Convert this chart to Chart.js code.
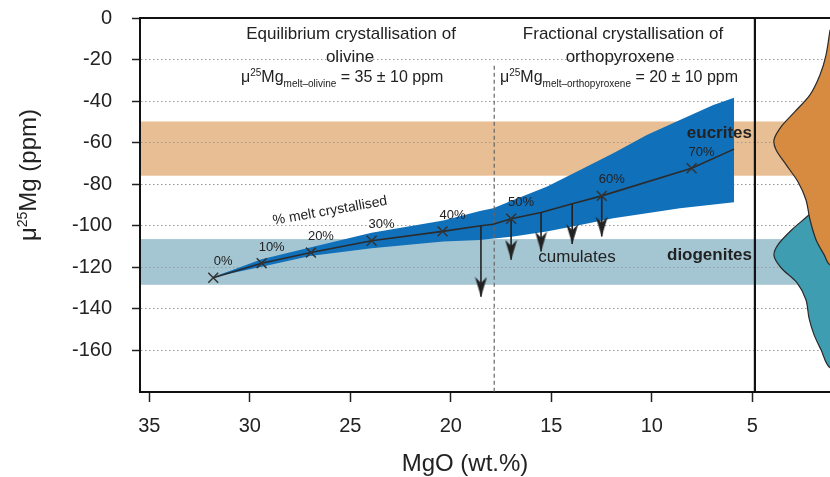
<!DOCTYPE html>
<html>
<head>
<meta charset="utf-8">
<title>mu25Mg vs MgO</title>
<script src="https://cdn.jsdelivr.net/npm/chart.js@4.4.1/dist/chart.umd.min.js"></script>
<style>
  body { margin: 0; background: #fff; }
  canvas { display: block; }
</style>
</head>
<body>
<canvas id="chart" width="830" height="477"></canvas>
<script>
// ----- data (MgO in wt.%, mu25Mg in ppm) -----

// crystallisation steps marked with a cross
const stepLabels = ['0%', '10%', '20%', '30%', '40%', '50%', '60%', '70%'];
const stepMgO = [31.82, 29.41, 26.96, 23.94, 20.41, 17.0, 12.49, 8.02];
const stepMu = [-125.0, -118.0, -112.9, -107.2, -102.7, -96.6, -85.6, -72.3];

// model path through the steps
const pathMgO = [31.82, 29.41, 26.96, 23.94, 20.41, 18.5, 17.89, 17.0, 15.51, 13.96, 12.49, 8.02, 5.91];
const pathMu = [-125.0, -118.0, -112.9, -107.2, -102.7, -100.0, -99.3, -96.6, -93.6, -89.4, -85.6, -72.3, -63.1];

// uncertainty envelope (upper edge left->right, lower edge right->left)
const upperMgO = [31.85, 29.41, 27.0, 23.94, 20.37, 18.55, 17.89, 16.89, 15.23, 13.57, 11.92, 10.25, 8.6, 6.94, 5.91];
const upperMu = [-124.8, -116.1, -110.5, -103.3, -97.5, -92.9, -91.6, -87.6, -81.2, -73.1, -65.1, -56.3, -49.1, -41.9, -38.4];
const lowerMgO = [5.91, 8.6, 10.25, 11.92, 13.57, 15.23, 16.89, 18.55, 20.37, 23.94, 27.0, 29.41, 31.85];
const lowerMu = [-88.7, -91.6, -94.0, -96.4, -99.6, -102.8, -105.2, -106.8, -107.6, -110.8, -114.5, -119.7, -124.8];

// cumulate arrows
const arrowMgO = [18.5, 17.0, 15.51, 13.96, 12.49];
const arrowFrom = [-100.0, -96.6, -93.6, -89.4, -85.6];
const arrowTo = [-134.2, -116.4, -112.4, -108.8, -105.2];

// meteorite ranges
const bandNames = ['eucrites', 'diogenites'];
const bandTop = [-49.8, -106.4];
const bandBottom = [-75.9, -128.4];

// density outlines of the meteorite data (right hand panel)
const eucMgO = [1.13, 1.33, 1.63, 2.13, 2.88, 3.57, 3.92, 3.82, 3.32, 2.73, 2.33, 2.13, 1.83, 1.43, 1.13, 0, 0];
const eucMu = [-5.7, -17.7, -27.3, -37.0, -45.1, -52.4, -58.6, -63.4, -70.6, -78.8, -87.5, -97.1, -106.7, -113.9, -118.8, -118.8, -5.7];
const dioMgO = [1.13, 1.53, 2.23, 3.03, 3.72, 3.92, 3.57, 2.78, 2.33, 2.18, 1.93, 1.58, 1.13, 0, 0];
const dioMu = [-85.1, -88.9, -95.2, -101.9, -109.1, -114.4, -120.2, -127.4, -135.6, -144.3, -152.4, -159.7, -168.3, -168.3, -85.1];

// dividers
const regimeSplitMgO = 17.84;
const panelEdgeMgO = 4.87;

// ----- styles -----
const FONT = "'Liberation Sans', Arial, Helvetica, sans-serif";
const INK = '#222';
const bandColors = ['#E8BF94', '#A4C6D3'];
const envelopeColor = '#1170BA';

Chart.defaults.font.family = FONT;
Chart.defaults.color = INK;

const pts = (xs, ys) => xs.map((x, i) => ({ x, y: ys[i] }));
const f = (size, bold) => (bold ? 'bold ' : '') + size + 'px ' + FONT;

// arrow head with its tip at the centre of the canvas
function makeArrowHead() {
  const c = document.createElement('canvas');
  c.width = 13;
  c.height = 42;
  const g = c.getContext('2d');
  g.fillStyle = INK;
  g.beginPath();
  g.moveTo(6.5, 21);
  g.lineTo(0.5, 1);
  g.lineTo(6.5, 7);
  g.lineTo(12.5, 1);
  g.closePath();
  g.fill();
  return c;
}
const arrowHead = makeArrowHead();

function richText(g, parts, x, y, align) {
  let w = 0;
  parts.forEach((p) => { g.font = p.f; p.w = g.measureText(p.t).width; w += p.w; });
  let cx = align === 'center' ? x - w / 2 : align === 'right' ? x - w : x;
  g.textAlign = 'left';
  g.textBaseline = 'alphabetic';
  parts.forEach((p) => { g.font = p.f; g.fillText(p.t, cx, y + (p.dy || 0)); cx += p.w; });
}

// bands go under the grid, so they are painted before the scales
const bandPlugin = {
  id: 'bands',
  beforeDraw(chart) {
    const { ctx, chartArea: a, scales: { y } } = chart;
    ctx.save();
    bandNames.forEach((name, i) => {
      const t = y.getPixelForValue(bandTop[i]);
      const b = y.getPixelForValue(bandBottom[i]);
      ctx.fillStyle = bandColors[i];
      ctx.fillRect(a.left, t, a.right - a.left, b - t);
    });
    ctx.restore();
  },
};

const textPlugin = {
  id: 'notes',
  afterDatasetsDraw(chart) {
    const { ctx, scales: { x, y } } = chart;
    ctx.save();
    ctx.fillStyle = INK;

    // step labels
    ctx.font = f(13);
    ctx.textAlign = 'center';
    ctx.textBaseline = 'middle';
    stepLabels.forEach((lab, i) => {
      ctx.fillText(lab, x.getPixelForValue(stepMgO[i]) + 10, y.getPixelForValue(stepMu[i]) - 16);
    });

    // headings
    ctx.font = f(17);
    ctx.fillText('Equilibrium crystallisation of', 351, 34);
    ctx.fillText('olivine', 350, 57);
    ctx.fillText('Fractional crystallisation of', 623, 34);
    ctx.fillText('orthopyroxene', 620, 57);
    richText(ctx, [
      { t: 'μ', f: f(16) }, { t: '25', f: f(10), dy: -6 }, { t: 'Mg', f: f(16) },
      { t: 'melt–olivine', f: f(10), dy: 5 }, { t: ' = 35 ± 10 ppm', f: f(16) },
    ], 241, 82, 'left');
    richText(ctx, [
      { t: 'μ', f: f(16) }, { t: '25', f: f(10), dy: -6 }, { t: 'Mg', f: f(16) },
      { t: 'melt–orthopyroxene', f: f(10), dy: 5 }, { t: ' = 20 ± 10 ppm', f: f(16) },
    ], 500, 82, 'left');

    ctx.textBaseline = 'middle';
    ctx.font = f(17);
    ctx.textAlign = 'center';
    ctx.fillText('cumulates', 577, 257);
    ctx.font = f(17, true);
    ctx.textAlign = 'right';
    ctx.fillText('eucrites', 752, 133);
    ctx.fillText('diogenites', 752, 255);

    ctx.save();
    ctx.translate(330, 211);
    ctx.rotate(-10 * Math.PI / 180);
    ctx.font = f(14);
    ctx.textAlign = 'center';
    ctx.fillText('% melt crystallised', 0, 0);
    ctx.restore();

    // axis titles
    ctx.font = f(24);
    ctx.textAlign = 'center';
    ctx.fillText('MgO (wt.%)', 465, 464);
    ctx.save();
    ctx.translate(36, 175);
    ctx.rotate(-Math.PI / 2);
    richText(ctx, [
      { t: 'μ', f: f(24) }, { t: '25', f: f(14), dy: -9 }, { t: 'Mg (ppm)', f: f(24) },
    ], 0, 0, 'center');
    ctx.restore();
    ctx.restore();
  },
};

const datasets = [
  {
    // uncertainty envelope
    data: pts(upperMgO.concat(lowerMgO), upperMu.concat(lowerMu)),
    fill: 'shape', backgroundColor: envelopeColor, borderWidth: 0, pointRadius: 0, order: 10,
  },
  {
    data: pts(dioMgO, dioMu),
    fill: 'shape', backgroundColor: '#3F9DB2', borderColor: '#2a2a2a', borderWidth: 1.2,
    pointRadius: 0, tension: 0.3, order: 9,
  },
  {
    data: pts(eucMgO, eucMu),
    fill: 'shape', backgroundColor: '#D68B41', borderColor: '#2a2a2a', borderWidth: 1.2,
    pointRadius: 0, tension: 0.3, order: 8,
  },
  {
    data: [{ x: regimeSplitMgO, y: -23 }, { x: regimeSplitMgO, y: -180 }],
    borderColor: '#666', borderWidth: 1.2, borderDash: [4, 3], pointRadius: 0, order: 7,
  },
  {
    data: [{ x: panelEdgeMgO, y: 0 }, { x: panelEdgeMgO, y: -180 }],
    borderColor: '#111', borderWidth: 2.2, pointRadius: 0, order: 6,
  },
  {
    data: pts(pathMgO, pathMu),
    borderColor: '#2b2b2b', borderWidth: 1.6, pointRadius: 0, order: 5,
  },
];

arrowMgO.forEach((m, i) => {
  datasets.push({
    data: [{ x: m, y: arrowFrom[i] }, { x: m, y: arrowTo[i] }],
    borderColor: INK, borderWidth: 1.6,
    pointRadius: [0, 7], pointStyle: ['circle', arrowHead], order: 4,
  });
});

datasets.push({
  data: pts(stepMgO, stepMu),
  showLine: false, pointStyle: 'crossRot', pointRadius: 7, pointBorderWidth: 1.5,
  pointBorderColor: '#333', order: 3,
});

const zeroPad = (s) => { s.paddingLeft = 0; s.paddingRight = 0; s.paddingTop = 0; s.paddingBottom = 0; };

new Chart(document.getElementById('chart'), {
  type: 'line',
  data: { datasets },
  options: {
    responsive: false,
    animation: false,
    events: [],
    layout: { autoPadding: false, padding: { top: 18, left: 0, right: 0, bottom: 0 } },
    plugins: { legend: { display: false }, tooltip: { enabled: false } },
    scales: {
      x: {
        type: 'linear', position: 'bottom', reverse: true, min: 1.134, max: 35.463,
        afterFit: (s) => { s.height = 85; zeroPad(s); },
        ticks: {
          stepSize: 5, includeBounds: false, autoSkip: false, maxRotation: 0,
          padding: 12, font: { size: 20 }, color: INK, callback: (v) => String(v),
        },
        grid: { drawOnChartArea: false, tickLength: 10, tickColor: INK, tickWidth: 1.5 },
        border: { color: '#111', width: 2 },
      },
      x2: {
        type: 'linear', position: 'top', reverse: true, min: 1.134, max: 35.463,
        afterFit: (s) => { s.height = 0; zeroPad(s); },
        ticks: { display: false },
        grid: { drawOnChartArea: false, drawTicks: false },
        border: { color: '#111', width: 2 },
      },
      y: {
        type: 'linear', min: -180, max: 0,
        afterFit: (s) => { s.width = 140; zeroPad(s); },
        ticks: {
          stepSize: 20, padding: 20, font: { size: 20 }, color: INK,
          callback: (v) => (v === -180 ? '' : String(v)),
        },
        grid: {
          color: (c) => (c.tick && (c.tick.value === 0 || c.tick.value === -180) ? 'rgba(0,0,0,0)' : '#9a9a9a'),
          lineWidth: 1, tickLength: 8, tickWidth: 1.5,
          tickColor: (c) => (c.tick && c.tick.value === -180 ? 'rgba(0,0,0,0)' : INK),
        },
        border: { color: '#111', width: 2, dash: [1.5, 2.5] },
      },
    },
  },
  plugins: [bandPlugin, textPlugin],
});
</script>
</body>
</html>
